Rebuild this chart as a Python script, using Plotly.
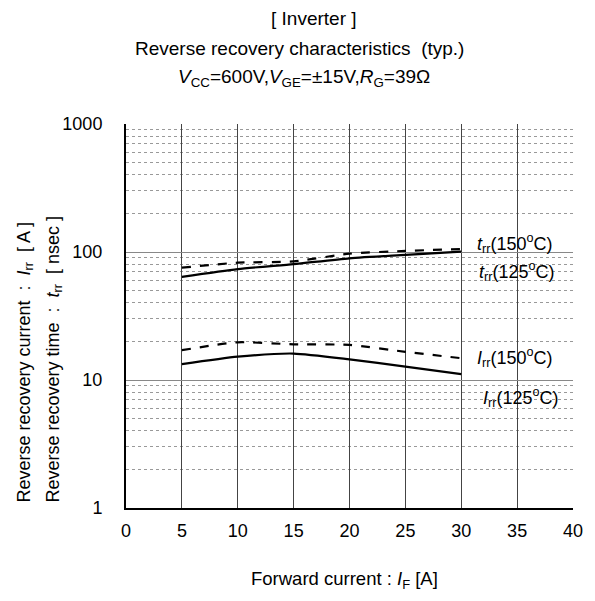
import math
import plotly.graph_objects as go

IF = [5, 10, 15, 20, 25, 30]
trr_125 = [64, 73.6, 80.5, 89.3, 94.8, 100.5]
trr_150 = [75.4, 82.5, 84.5, 97.0, 102, 105.5]
irr_150 = [17.1, 19.7, 19.0, 18.8, 16.6, 14.8]
irr_125 = [13.3, 15.2, 16.1, 14.5, 12.7, 11.1]

x_ticks = [0, 5, 10, 15, 20, 25, 30, 35, 40]
y_ticks = [1, 10, 100, 1000]

FONT = "Liberation Sans, Arial, sans-serif"

# plot area in page pixels (page has an 8px body margin)
PX0, PX1, PY0, PY1 = 126, 580, 124, 508
def px(xp):
    return (xp - PX0) / (PX1 - PX0)
def py(yp):
    return (PY1 - yp) / (PY1 - PY0)

fig = go.Figure()
for y, dash in [(trr_150, "dash"), (trr_125, "solid"), (irr_150, "dash"), (irr_125, "solid")]:
    fig.add_trace(go.Scatter(x=IF, y=y, mode="lines",
                             line=dict(color="black", width=2.2, dash=dash, shape="spline", smoothing=0.6),
                             showlegend=False, hoverinfo="skip"))

labels = [
    (480, 243, "<i>t</i><sub>rr</sub>(150<sup>o</sup>C)"),
    (482, 271, "<i>t</i><sub>rr</sub>(125<sup>o</sup>C)"),
    (480, 357, "<i>I</i><sub>rr</sub>(150<sup>o</sup>C)"),
    (487, 397, "<i>I</i><sub>rr</sub>(125<sup>o</sup>C)"),
]
for x, y, t in labels:
    fig.add_annotation(xref="paper", yref="paper", x=px(x), y=py(y), text=t, showarrow=False,
                       xanchor="left", yanchor="middle",
                       font=dict(family=FONT, size=18, color="black"))

titles = [
    (317, 18, "[ Inverter ]"),
    (302, 48, "Reverse recovery characteristics  (typ.)"),
    (307, 78, "<i>V</i><sub>CC</sub>=600V,<i>V</i><sub>GE</sub>=±15V,<i>R</i><sub>G</sub>=39Ω"),
]
for x, y, t in titles:
    fig.add_annotation(xref="paper", yref="paper", x=px(x), y=1.0, yshift=PY0 - y, text=t, showarrow=False,
                       font=dict(family=FONT, size=19, color="black"), xanchor="center", yanchor="middle")

fig.add_annotation(xref="paper", yref="paper", x=0, xshift=25 - PX0, y=py(505), textangle=-90,
                   text="Reverse recovery current  :  <i>I</i><sub>rr</sub>  [ A ]", showarrow=False,
                   font=dict(family=FONT, size=18, color="black"), xanchor="center", yanchor="bottom")
fig.add_annotation(xref="paper", yref="paper", x=0, xshift=54 - PX0, y=py(505), textangle=-90,
                   text="Reverse recovery time  :  <i>t</i><sub>rr</sub>  [ nsec ]", showarrow=False,
                   font=dict(family=FONT, size=18, color="black"), xanchor="center", yanchor="bottom")
fig.add_annotation(xref="paper", yref="paper", x=px(348), y=0, yshift=PY1 - 580,
                   text="Forward current : <i>I</i><sub>F</sub> [A]", showarrow=False,
                   font=dict(family=FONT, size=18.5, color="black"), xanchor="center", yanchor="middle")

W, H = 587, 593
fig.update_layout(
    width=W, height=H,
    margin=dict(l=PX0 - 8, r=W - (PX1 - 8), t=PY0 - 8, b=H - (PY1 - 8)),
    paper_bgcolor="white", plot_bgcolor="white",
    font=dict(family=FONT, size=18, color="black"),
)
fig.update_xaxes(range=[0, 40], tickvals=x_ticks, showgrid=True, gridcolor="#444444", gridwidth=1,
                 showline=True, linecolor="black", linewidth=2, ticks="", zeroline=False,
                 tickfont=dict(size=18), ticklabelstandoff=5, ticklabeloverflow="allow")
fig.update_yaxes(type="log", range=[0, 3], tickvals=y_ticks, ticktext=[str(v) for v in y_ticks],
                 showgrid=True, gridcolor="#888888", gridwidth=1,
                 showline=True, linecolor="black", linewidth=2, ticks="", zeroline=False,
                 tickfont=dict(size=18), ticklabelstandoff=18,
                 minor=dict(dtick="D1", showgrid=True, gridcolor="#999999", griddash="dot", gridwidth=1))

fig.write_html("out.html")
